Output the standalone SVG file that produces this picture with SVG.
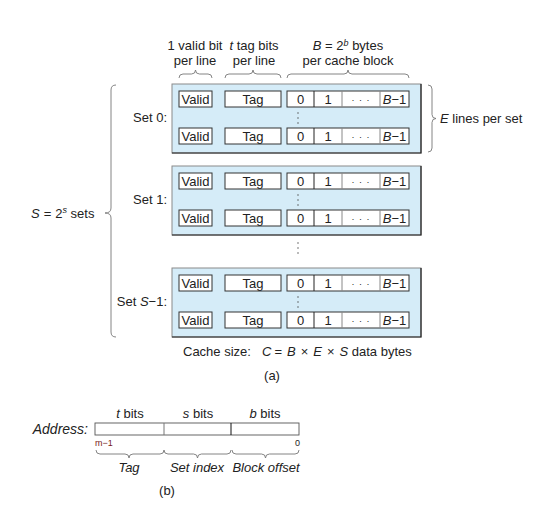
<svg xmlns="http://www.w3.org/2000/svg" width="545" height="518" viewBox="0 0 545 518">
<style>
text{font-family:"Liberation Sans",Arial,sans-serif;font-size:13px;fill:#222}
.c{text-anchor:middle}
.r{text-anchor:end}
.i{font-style:italic}
.setbox{fill:#d5ecf8;stroke:#8a8a8a;stroke-width:1}
.shade{fill:none;stroke:#222;stroke-width:1.2}
.cell{fill:#fff;stroke:#333;stroke-width:1}
.brace{fill:none;stroke:#777;stroke-width:0.9}
.dot{fill:#444}
.sm{font-size:9px}
</style>
<defs>
<g id="row">
<rect class="cell" x="179" y="0" width="33" height="16"/>
<text class="c" x="195.5" y="12.5">Valid</text>
<rect class="cell" x="225" y="0" width="56" height="16"/>
<text class="c" x="253" y="12.5">Tag</text>
<rect class="cell" x="287" y="0" width="122" height="16"/>
<line x1="314" y1="0" x2="314" y2="16" stroke="#222"/>
<line x1="342" y1="0" x2="342" y2="16" stroke="#888"/>
<line x1="380" y1="0" x2="380" y2="16" stroke="#888"/>
<text class="c" x="300.5" y="12.5">0</text>
<text class="c" x="328" y="12.5">1</text>
<text class="c" x="361" y="11.5" fill="#555" style="font-size:9px;letter-spacing:1px">· · ·</text>
<text class="c" x="394.5" y="12.5"><tspan class="i">B</tspan>−1</text>
</g>
<g id="vdots">
<circle class="dot" cx="0" cy="0" r="0.7"/>
<circle class="dot" cx="0" cy="5" r="0.7"/>
<circle class="dot" cx="0" cy="10" r="0.7"/>
</g>
</defs>

<g id="labels-top">
<text class="c" x="195" y="50">1 valid bit</text>
<text class="c" x="195" y="65">per line</text>
<text class="c" x="254" y="50"><tspan class="i">t</tspan> tag bits</text>
<text class="c" x="254" y="65">per line</text>
<text class="c" x="348" y="50"><tspan class="i">B</tspan> = 2<tspan class="i" dy="-4" style="font-size:9px">b</tspan><tspan dy="4"> bytes</tspan></text>
<text class="c" x="348" y="65">per cache block</text>
</g>

<g id="set0">
<rect class="setbox" x="172" y="84" width="249" height="69"/>
<path class="shade" d="M421,84 V153 H172"/>
<use href="#row" y="91"/>
<use href="#row" y="128"/>
<use href="#vdots" x="298" y="113"/>
<text class="r" x="167" y="122">Set 0:</text>
</g>

<g id="set1">
<rect class="setbox" x="172" y="166" width="249" height="69"/>
<path class="shade" d="M421,166 V235 H172"/>
<use href="#row" y="173"/>
<use href="#row" y="210"/>
<use href="#vdots" x="298" y="195"/>
<text class="r" x="167" y="204">Set 1:</text>
</g>

<g id="setS1">
<rect class="setbox" x="172" y="268" width="249" height="69"/>
<path class="shade" d="M421,268 V337 H172"/>
<use href="#row" y="275"/>
<use href="#row" y="312"/>
<use href="#vdots" x="298" y="297"/>
<text class="r" x="167" y="306">Set <tspan class="i">S</tspan>−1:</text>
</g>

<g id="between-dots">
<use href="#vdots" x="298" y="243"/>
</g>

<g id="connectors">
<path class="brace" d="M179,78 q0,-4 4,-4 H191.5 q4,0 4,-4 q0,4 4,4 H208 q4,0 4,4"/>
<path class="brace" d="M225,78 q0,-4 4,-4 H249 q4,0 4,-4 q0,4 4,4 H277 q4,0 4,4"/>
<path class="brace" d="M287,78 q0,-4 4,-4 H344 q4,0 4,-4 q0,4 4,4 H405 q4,0 4,4"/>
<path class="brace" d="M428,85 q4,0 4,4 V114.5 q0,4 4,4 q-4,0 -4,4 V148 q0,4 -4,4"/>
<path class="brace" d="M116,85 q-5,0 -5,5 V208 q0,5 -6,5 q6,0 6,5 V332 q0,5 5,5"/>
<path class="brace" d="M96,450 q0,4 4,4 H125 q4,0 4,4 q0,-4 4,-4 H160 q4,0 4,-4"/>
<path class="brace" d="M164,450 q0,4 4,4 H193.5 q4,0 4,4 q0,-4 4,-4 H227 q4,0 4,-4"/>
<path class="brace" d="M232,450 q0,4 4,4 H261.5 q4,0 4,4 q0,-4 4,-4 H295 q4,0 4,-4"/>
</g>

<g id="side-labels">
<text x="440" y="123"><tspan class="i">E</tspan> lines per set</text>
<text x="31" y="218"><tspan class="i">S</tspan><tspan dx="4">=</tspan><tspan dx="4">2</tspan><tspan dy="-5" class="i" style="font-size:9px">s</tspan><tspan dy="5"> sets</tspan></text>
<text x="183" y="356">Cache size:</text>
<text x="262" y="356"><tspan class="i">C</tspan><tspan dx="3">=</tspan><tspan class="i" dx="5">B</tspan><tspan dx="5">×</tspan><tspan class="i" dx="5">E</tspan><tspan dx="5">×</tspan><tspan class="i" dx="5">S</tspan> data bytes</text>
<text class="c" x="272" y="380">(a)</text>
</g>

<g id="address">
<text class="r i" x="88" y="434" style="font-size:14px">Address:</text>
<rect x="95" y="423" width="204" height="12" fill="#fff" stroke="#555" stroke-width="0.9"/>
<line x1="164" y1="423" x2="164" y2="435" stroke="#777"/>
<line x1="231" y1="423" x2="231" y2="435" stroke="#111"/>
<text class="c" x="130" y="418"><tspan class="i">t</tspan> bits</text>
<text class="c" x="198" y="418"><tspan class="i">s</tspan> bits</text>
<text class="c" x="265" y="418"><tspan class="i">b</tspan> bits</text>
<text class="sm" x="95" y="446" style="fill:#7a1a1a">m−1</text>
<text class="sm r" x="300" y="446">0</text>
<text class="c i" x="129" y="472">Tag</text>
<text class="c i" x="197" y="472">Set index</text>
<text class="c i" x="266" y="472">Block offset</text>
<text class="c" x="167" y="495">(b)</text>
</g>
</svg>
